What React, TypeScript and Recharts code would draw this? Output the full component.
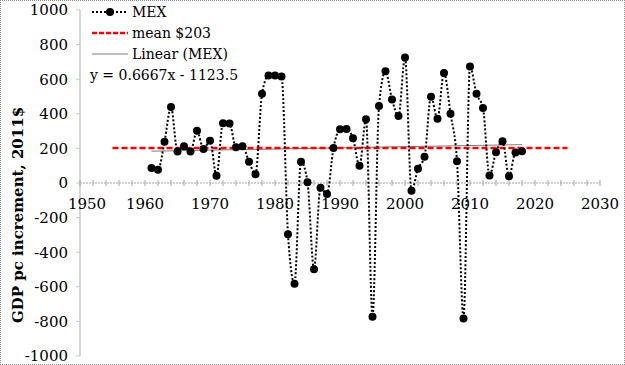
import { ComposedChart, Line, XAxis, YAxis, ReferenceLine, ReferenceDot, Legend, Label } from 'recharts';

const years = [
  1961, 1962, 1963, 1964, 1965, 1966, 1967, 1968, 1969, 1970,
  1971, 1972, 1973, 1974, 1975, 1976, 1977, 1978, 1979, 1980,
  1981, 1982, 1983, 1984, 1985, 1986, 1987, 1988, 1989, 1990,
  1991, 1992, 1993, 1994, 1995, 1996, 1997, 1998, 1999, 2000,
  2001, 2002, 2003, 2004, 2005, 2006, 2007, 2008, 2009, 2010,
  2011, 2012, 2013, 2014, 2015, 2016, 2017, 2018,
];
const gdpIncrement = [
  86, 76, 238, 439, 182, 213, 182, 302, 196, 244,
  42, 346, 344, 206, 213, 123, 51, 516, 621, 622,
  615, -296, -582, 123, 5, -499, -28, -63, 202, 310,
  312, 258, 99, 368, -773, 445, 646, 483, 387, 725,
  -45, 82, 152, 499, 372, 636, 401, 126, -783, 673,
  516, 433, 43, 178, 242, 39, 177, 184,
];

const meanValue = 203;
const meanYears = [1955, 2025];
const trendYears = [1961, 2018];
const trendValues = [183.9, 221.9];

const yTicks = [-1000, -800, -600, -400, -200, 0, 200, 400, 600, 800, 1000];
const xLabelYears = [1950, 1960, 1970, 1980, 1990, 2000, 2010, 2020, 2030];
const xMinorYears = [
  1950, 1952, 1954, 1956, 1958, 1960, 1962, 1964, 1966, 1968, 1970,
  1972, 1974, 1976, 1978, 1980, 1982, 1984, 1986, 1988, 1990,
  1992, 1994, 1996, 1998, 2000, 2002, 2004, 2006, 2008, 2010,
  2012, 2014, 2016, 2018, 2020, 2022, 2024, 2026, 2028, 2030,
];

const FONT = '"DejaVu Serif", serif';
const AXIS_GRAY = '#a6a6a6';

const mexData = years.map((year, i) => ({ year, v: gdpIncrement[i] }));
const meanData = meanYears.map((year) => ({ year, mean: meanValue }));
const trendData = trendYears.map((year, i) => ({ year, trend: trendValues[i] }));

// legend drawn as html rows, Excel-style
function LegendBox() {
  const row = { display: 'flex', alignItems: 'center', height: 21 } as const;
  const text = { fontFamily: FONT, fontSize: 14, color: '#000', marginLeft: 4, whiteSpace: 'nowrap' } as const;
  return (
    <div>
      <div style={row}>
        <svg width={36} height={20}>
          <line x1={0} x2={36} y1={10} y2={10} stroke="#000" strokeWidth={2} strokeDasharray="2 2" />
          <circle cx={18} cy={10} r={4} fill="#000" />
        </svg>
        <span style={text}>MEX</span>
      </div>
      <div style={row}>
        <svg width={36} height={20}>
          <line x1={0} x2={36} y1={10} y2={10} stroke="#ff0000" strokeWidth={2.5} strokeDasharray="5 2" />
        </svg>
        <span style={text}>mean $203</span>
      </div>
      <div style={row}>
        <svg width={36} height={20}>
          <line x1={0} x2={36} y1={10} y2={10} stroke="#7f7f7f" strokeWidth={1} />
        </svg>
        <span style={text}>Linear (MEX)</span>
      </div>
      <div style={row}>
        <span style={{ ...text, marginLeft: -2 }}>y = 0.6667x - 1123.5</span>
      </div>
    </div>
  );
}

function YTitle(props: any) {
  const vb = props.viewBox || { x: 0, y: 0, width: 0, height: 0 };
  const cx = vb.x + 18;
  const cy = vb.y + vb.height / 2 + 32;
  return (
    <text
      x={cx}
      y={cy}
      transform={`rotate(-90 ${cx} ${cy})`}
      textAnchor="middle"
      dominantBaseline="central"
      fontFamily={FONT}
      fontSize={15}
      fontWeight="bold"
      fill="#000"
    >
      GDP pc increment, 2011$
    </text>
  );
}

export default function App() {
  return (
    <div style={{ position: 'absolute', left: 0, top: 0, width: 625, height: 365, background: '#fff' }}>
      <ComposedChart width={625} height={365} margin={{ top: 10, right: 25, bottom: 9, left: 0 }}>
        <XAxis dataKey="year" type="number" domain={[1950, 2030]} hide allowDataOverflow />
        <YAxis
          type="number"
          domain={[-1000, 1000]}
          ticks={yTicks}
          interval={0}
          width={80}
          axisLine={{ stroke: '#c8c8c8', strokeWidth: 1.5 }}
          tickLine={{ stroke: '#c8c8c8' }}
          tickSize={4}
          tickMargin={8}
          tick={{ fontFamily: FONT, fontSize: 15, fill: '#000' }}
        >
          <Label content={YTitle} />
        </YAxis>
        <ReferenceLine y={0} stroke={AXIS_GRAY} strokeDasharray="2 1" />
        {xMinorYears.map((yr) => (
          <ReferenceDot
            key={`t${yr}`}
            x={yr}
            y={0}
            r={0}
            shape={(p: any) => (
              <line x1={p.cx} x2={p.cx} y1={p.cy - 3} y2={p.cy + 3} stroke={AXIS_GRAY} />
            )}
          />
        ))}
        {xLabelYears.map((yr, i) => (
          <ReferenceDot
            key={`l${yr}`}
            x={yr}
            y={0}
            r={0}
            shape={(p: any) => (
              <text
                x={p.cx + (i === 0 ? 7 : 0)}
                y={p.cy + 26}
                textAnchor="middle"
                fontFamily={FONT}
                fontSize={15}
                fill="#000"
              >
                {yr}
              </text>
            )}
          />
        ))}
        <Line
          data={trendData}
          dataKey="trend"
          stroke="#7f7f7f"
          strokeWidth={1}
          dot={false}
          legendType="none"
          isAnimationActive={false}
        />
        <Line
          data={meanData}
          dataKey="mean"
          stroke="#ff0000"
          strokeWidth={2.5}
          strokeDasharray="6 3"
          dot={false}
          legendType="none"
          isAnimationActive={false}
        />
        <Line
          data={mexData}
          dataKey="v"
          name="MEX"
          type="monotone"
          stroke="#000"
          strokeWidth={2}
          strokeDasharray="2 2"
          dot={{ r: 4, fill: '#000', stroke: '#000', strokeWidth: 0, strokeDasharray: '' }}
          isAnimationActive={false}
        />
        <Legend
          layout="vertical"
          align="center"
          verticalAlign="middle"
          content={() => <LegendBox />}
          wrapperStyle={{ left: 92, top: 1, width: 220 }}
        />
      </ComposedChart>
      <div
        style={{
          position: 'absolute',
          left: 0,
          top: 0,
          width: 625,
          height: 365,
          boxSizing: 'border-box',
          border: '1px dotted #8c8c8c',
          pointerEvents: 'none',
        }}
      />
    </div>
  );
}
